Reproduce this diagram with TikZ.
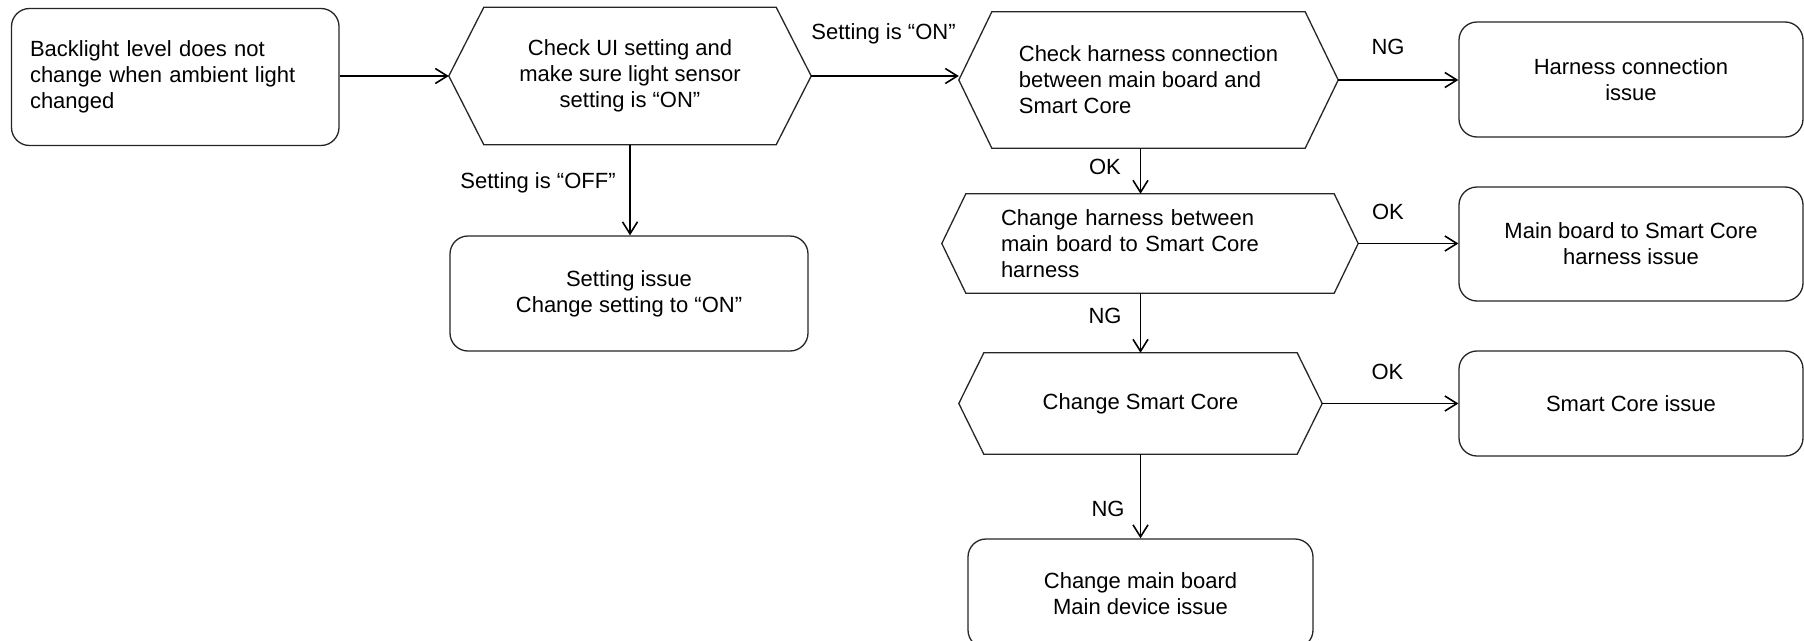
\documentclass[tikz,border=0pt]{standalone}
\usepackage{fontspec}
\setmainfont{Liberation Sans}
\usetikzlibrary{arrows.meta,calc}
\newcommand\hexpath[2]{\draw[shapeline] (#1.west) -- ([xshift=#2]#1.north west) -- ([xshift=-#2]#1.north east) -- (#1.east) -- ([xshift=-#2]#1.south east) -- ([xshift=#2]#1.south west) -- cycle;}
\tikzset{
  shapeline/.style={draw=black!85, line width=1.3pt},
  roundbox/.style={shapeline, rounded corners=18pt, inner sep=0pt, align=center},
  hexbox/.style={inner sep=0pt, align=center},
  lbl/.style={inner sep=0pt},
  conn/.style={draw=black, line width=1.6pt, -{Straight Barb[length=12pt,width=15pt,line width=1.6pt]}},
}
\begin{document}
\begin{tikzpicture}[x=1pt,y=-1pt,font=\fontsize{22}{26}\selectfont]
\useasboundingbox (0,0) rectangle (1804,640);
\fill[white] (0,0) rectangle (1804,640);
\clip (0,0) rectangle (1804,640);
% boxes
\node[roundbox, minimum width=327.5pt, minimum height=137pt, text width=290.5pt, align=left] (A) at (175.25,77) {Backlight level does not\\change when ambient light\\changed};
\node[hexbox, minimum width=362pt, minimum height=137pt] (B) at (630,76) {Check UI setting and\\make sure light sensor\\setting is “ON”};
\hexpath{B}{35pt}
\node[roundbox, minimum width=358pt, minimum height=115pt] (C) at (629,293.5) {Setting issue\\Change setting to “ON”};
\node[hexbox, minimum width=379pt, minimum height=136pt, align=left] (D) at (1148.5,80) {Check harness connection\\between main board and\\Smart Core};
\hexpath{D}{33pt}
\node[roundbox, minimum width=344pt, minimum height=115pt] (E) at (1631,79.5) {Harness connection\\issue};
\node[hexbox, minimum width=416pt, minimum height=99pt, text width=298pt, align=left] (F) at (1150,243.5) {Change harness between\\main board to Smart Core\\harness};
\hexpath{F}{24pt}
\node[roundbox, minimum width=344pt, minimum height=114pt] (G) at (1631,244) {Main board to Smart Core\\harness issue};
\node[hexbox, minimum width=363pt, minimum height=101pt] (H) at (1140.5,403.5) {Change Smart Core};
\hexpath{H}{25pt}
\node[roundbox, minimum width=344pt, minimum height=105pt] (I) at (1631,403.5) {Smart Core issue};
\node[roundbox, minimum width=345pt, minimum height=109pt] (J) at (1140.5,593.5) {Change main board\\Main device issue};
% connectors
\draw[conn] (A.east|-B.west) -- (B.west);
\draw[conn] (B.east) -- (B.east-|D.west);
\draw[conn] (B.south) -- (B.south|-C.north);
\draw[conn] (D.east) -- (D.east-|E.west);
\draw[conn] (D.south-|H.north) -- (F.north-|H.north);
\draw[conn] (F.east) -- (F.east-|G.west);
\draw[conn] (F.south-|H.north) -- (H.north);
\draw[conn] (H.east) -- (H.east-|I.west);
\draw[conn] (H.south) -- (J.north);
% labels
\node[lbl] (l1) at (883.5,34) {Setting is “ON”};
\node[lbl] (l2) at (538,183) {Setting is “OFF”};
\node[lbl] (l3) at (1388,47) {NG};
\node[lbl] (l4) at (1105,167) {OK};
\node[lbl] (l5) at (1388,212) {OK};
\node[lbl] (l6) at (1105,316) {NG};
\node[lbl] (l7) at (1387.5,372) {OK};
\node[lbl] (l8) at (1108,509) {NG};
\end{tikzpicture}
\end{document}
